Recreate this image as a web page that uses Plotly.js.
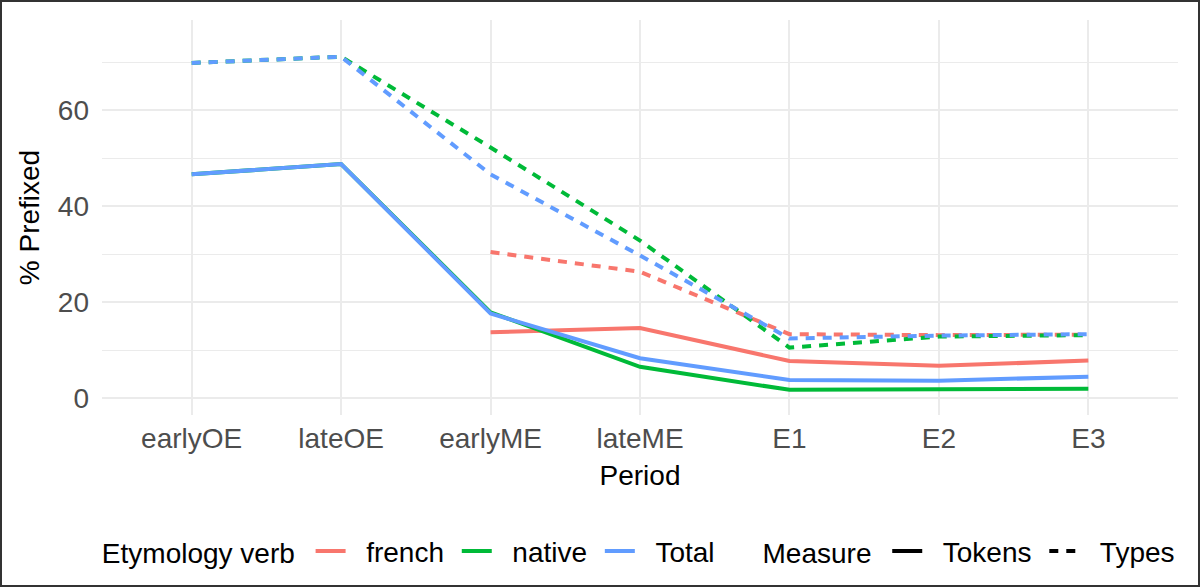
<!DOCTYPE html>
<html>
<head>
<meta charset="utf-8">
<script src="https://cdn.plot.ly/plotly-3.0.1.min.js"></script>
<style>
body { margin: 0; background: #fff; }
#plot { width: 1200px; height: 587px; outline: 2px solid #333; outline-offset: -2px; }
</style>
</head>
<body>
<div id="plot"></div>
<script>
var periods = ["earlyOE", "lateOE", "earlyME", "lateME", "E1", "E2", "E3"];

// % prefixed
var frenchTokens = [null, null, 13.7, 14.6, 7.7, 6.7, 7.8];
var frenchTypes  = [null, null, 30.4, 26.3, 13.3, 13.1, 13.2];
var nativeTokens = [46.6, 48.75, 17.85, 6.5, 1.7, 1.75, 1.95];
var nativeTypes  = [69.8, 71.1, 52.2, 32.8, 10.5, 12.8, 13.1];
var totalTokens  = [46.6, 48.75, 17.6, 8.3, 3.75, 3.6, 4.45];
var totalTypes   = [69.8, 71.1, 46.6, 29.7, 12.4, 13.0, 13.3];

var etyNames = ["french", "native", "Total"];
var colors = ["#F8766D", "#00BA38", "#619CFF"];
var measureNames = ["Tokens", "Types"];
var dashes = ["solid", "9px,8px"];

var series = [
  [frenchTokens, frenchTypes],
  [nativeTokens, nativeTypes],
  [totalTokens, totalTypes]
];

var FONT = "Liberation Sans, Arial, sans-serif";
var FS = 28;
var NB = "\u00A0";
var data = [];

for (let i = 0; i < series.length; i++) {
  for (let j = 0; j < 2; j++) {
    data.push({
      x: periods,
      y: series[i][j],
      type: "scatter",
      mode: "lines",
      line: {color: colors[i], width: 4, dash: dashes[j]},
      connectgaps: false,
      showlegend: false,
      hoverinfo: "skip"
    });
  }
}

// legend entries only (padded names give the ggplot-like spacing)
for (let i = 0; i < etyNames.length; i++) {
  data.push({
    x: [null], y: [null], type: "scatter", mode: "lines",
    name: NB + NB + etyNames[i] + (i < etyNames.length - 1 ? NB : ""), legend: "legend",
    line: {color: colors[i], width: 4}
  });
}
for (let j = 0; j < measureNames.length; j++) {
  data.push({
    x: [null], y: [null], type: "scatter", mode: "lines",
    name: NB + NB + measureNames[j] + (j < measureNames.length - 1 ? NB : ""), legend: "legend2",
    line: {color: "#000", width: 4, dash: dashes[j]}
  });
}

var legendBase = {
  orientation: "h",
  xanchor: "left",
  y: -0.345,
  yanchor: "middle",
  itemwidth: 30,
  bgcolor: "rgba(0,0,0,0)",
  font: {family: FONT, size: FS, color: "#000"}
};

var layout = {
  width: 1200,
  height: 587,
  margin: {l: 102, r: 22, t: 20, b: 172, autoexpand: false},
  paper_bgcolor: "rgba(0,0,0,0)",
  plot_bgcolor: "#fff",
  font: {family: FONT, color: "#000"},
  xaxis: {
    type: "category",
    range: [-0.6, 6.6],
    showgrid: true,
    gridcolor: "#EBEBEB",
    gridwidth: 2,
    zeroline: false,
    showline: false,
    ticks: "",
    ticklabelstandoff: 4,
    tickfont: {family: FONT, size: FS, color: "#4D4D4D"},
    title: {text: "Period", font: {family: FONT, size: FS, color: "#000"}, standoff: 12}
  },
  yaxis: {
    range: [-3.54, 78.75],
    tickvals: [0, 20, 40, 60],
    showgrid: true,
    gridcolor: "#EBEBEB",
    gridwidth: 2,
    minor: {tickvals: [10, 30, 50, 70], showgrid: true, gridcolor: "#EBEBEB", gridwidth: 1.2},
    zeroline: false,
    showline: false,
    ticks: "",
    ticklabelstandoff: 12,
    tickfont: {family: FONT, size: FS, color: "#4D4D4D"},
    title: {text: "% Prefixed", font: {family: FONT, size: FS, color: "#000"}, standoff: 10}
  },
  legend: Object.assign({}, legendBase, {
    x: -0.002,
    title: {text: "Etymology verb" + NB, side: "left", font: {family: FONT, size: FS}}
  }),
  legend2: Object.assign({}, legendBase, {
    x: 0.612,
    title: {text: "Measure" + NB, side: "left", font: {family: FONT, size: FS}}
  })
};

Plotly.newPlot("plot", data, layout, {displayModeBar: false});
</script>
</body>
</html>
